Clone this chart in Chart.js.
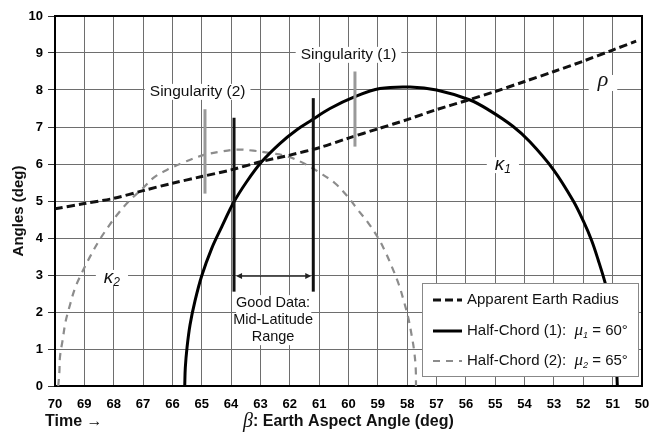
<!DOCTYPE html>
<html><head><meta charset="utf-8">
<script src="https://cdn.jsdelivr.net/npm/chart.js@4.4.0/dist/chart.umd.min.js"></script>
<style>html,body{margin:0;padding:0;background:#fff}#wrap{width:661px;height:433px}</style>
</head><body><div id="wrap"><canvas id="c" width="661" height="433"></canvas></div>
<script>
// ---- data ----
const xTickLabels = [70,69,68,67,66,65,64,63,62,61,60,59,58,57,56,55,54,53,52,51,50];
const yTickLabels = [0,1,2,3,4,5,6,7,8,9,10];

const rhoBeta = [70,69,68,67,66,65,64,63,62,61,60,59,58,57,56,55,54,53,52,51,50.2];
const rhoVals = [4.79,4.93,5.07,5.28,5.48,5.66,5.84,6.06,6.24,6.44,6.7,6.95,7.2,7.47,7.71,7.96,8.23,8.5,8.78,9.08,9.32];

const k1Beta = [65.58,65.56,65.5,65.4,65.23,65.0,64.66,64.32,63.92,63.47,62.96,62.33,61.77,61.25,60.63,59.78,58.93,57.9,57.0,55.86,55.2,54.4,53.82,53.02,52.34,52.0,51.71,51.49,51.26,51.1,50.97,50.89,50.84];
const k1Vals = [0,0.5,1.05,1.65,2.3,2.98,3.72,4.3,4.95,5.52,6.06,6.56,6.92,7.19,7.5,7.82,8.04,8.08,8.0,7.73,7.45,7.02,6.6,5.85,5.0,4.46,3.92,3.4,2.8,2.25,1.55,0.85,0];

const k2Beta = [69.89,69.85,69.83,69.74,69.64,69.49,69.32,69.09,68.81,68.52,68.18,67.84,67.5,67.0,66.59,66.08,65.57,64.95,64.38,63.81,63.24,62.62,62.05,61.48,60.97,60.46,60.06,59.7,59.33,58.98,58.73,58.5,58.28,58.11,57.96,57.85,57.76,57.71,57.7];
const k2Vals = [0,0.39,0.79,1.24,1.74,2.19,2.64,3.05,3.49,3.9,4.31,4.67,4.98,5.35,5.66,5.88,6.06,6.24,6.33,6.39,6.36,6.29,6.2,6.0,5.76,5.48,5.15,4.78,4.41,3.99,3.6,3.18,2.73,2.28,1.83,1.38,0.93,0.48,0];

const seriesNames = ["Apparent Earth Radius", "Half-Chord (1):", "Half-Chord (2):"];
const muSubs = [null, "1", "2"];
const muValues = [null, "60°", "65°"];

const goodDataLines = ["Good Data:", "Mid-Latitude", "Range"];
const singularityLabels = ["Singularity (2)", "Singularity (1)"];

// ---- build ----
const pts = (xs, ys) => xs.map((x, i) => ({x: x, y: ys[i]}));
const SANS = 'Arial, "Liberation Sans", sans-serif';
const SERIF = '"Liberation Serif", "Times New Roman", serif';

function richText(ctx, parts, x, y) {
  let cx = x;
  for (const p of parts) {
    ctx.font = p.font;
    ctx.fillText(p.t, cx, y + (p.dy || 0));
    cx += ctx.measureText(p.t).width;
  }
  return cx;
}
function partsWidth(ctx, parts) {
  let w = 0;
  for (const p of parts) { ctx.font = p.font; w += ctx.measureText(p.t).width; }
  return w;
}

const annot = {
  id: 'annot',
  beforeDraw(chart) {
    const ctx = chart.ctx;
    ctx.save(); ctx.fillStyle = '#fff'; ctx.fillRect(0, 0, chart.width, chart.height); ctx.restore();
  },
  beforeDatasetsDraw(chart) {
    const {ctx, chartArea: a, scales: {x, y}} = chart;
    ctx.save();
    ctx.strokeStyle = '#000'; ctx.lineWidth = 2;
    ctx.strokeRect(a.left, a.top, a.right - a.left, a.bottom - a.top);
    ctx.textBaseline = 'middle'; ctx.fillStyle = '#111';
    const box = (parts, bx, by, padX) => {
      const w = partsWidth(ctx, parts);
      const px = x.getPixelForValue(bx), py = y.getPixelForValue(by);
      ctx.fillStyle = '#fff';
      ctx.fillRect(px - w / 2 - padX, py - 8, w + 2 * padX, 16);
      ctx.fillStyle = '#111';
      ctx.textAlign = 'left';
      richText(ctx, parts, px - w / 2, py);
    };
    box([{t: singularityLabels[0], font: '15.5px ' + SANS}], 65.14, 7.95, 5);
    box([{t: singularityLabels[1], font: '15.5px ' + SANS}], 60.0, 8.95, 5);
    box([{t: 'ρ', font: 'italic 22px ' + SERIF, dy: -3}], 51.33, 8.19, 9);
    box([{t: 'κ', font: 'italic 19px ' + SANS}, {t: '1', font: 'italic 12px ' + SANS, dy: 5}], 54.74, 5.97, 8);
    box([{t: 'κ', font: 'italic 19px ' + SANS}, {t: '2', font: 'italic 12px ' + SANS, dy: 5}], 68.06, 2.92, 8);
    const gx = x.getPixelForValue(62.57);
    const gy = [2.24, 1.78, 1.32].map(v => y.getPixelForValue(v));
    ctx.fillStyle = '#fff';
    ctx.fillRect(x.getPixelForValue(63.9) + 2, gy[0] - 8, x.getPixelForValue(61.2) - x.getPixelForValue(63.9) - 4, gy[2] - gy[0] + 16);
    ctx.fillStyle = '#111'; ctx.font = '14.5px ' + SANS; ctx.textAlign = 'center';
    goodDataLines.forEach((t, i) => ctx.fillText(t, gx, gy[i]));
    ctx.restore();
  },
  afterDatasetsDraw(chart) {
    const {ctx, chartArea: a, scales: {x, y}} = chart;
    ctx.save();
    const vbar = (b, y0, y1, color, w) => {
      ctx.strokeStyle = color; ctx.lineWidth = w; ctx.setLineDash([]);
      ctx.beginPath();
      ctx.moveTo(x.getPixelForValue(b), y.getPixelForValue(y0));
      ctx.lineTo(x.getPixelForValue(b), y.getPixelForValue(y1));
      ctx.stroke();
    };
    vbar(64.89, 5.2, 7.48, '#999', 3);
    vbar(59.78, 6.47, 8.5, '#999', 3);
    vbar(63.9, 2.55, 7.25, '#111', 3);
    vbar(61.2, 2.55, 7.78, '#111', 3);
    const ax0 = x.getPixelForValue(63.9) + 2, ax1 = x.getPixelForValue(61.2) - 2, ay = y.getPixelForValue(2.97);
    ctx.strokeStyle = '#222'; ctx.fillStyle = '#222'; ctx.lineWidth = 1.3;
    ctx.beginPath(); ctx.moveTo(ax0 + 4, ay); ctx.lineTo(ax1 - 4, ay); ctx.stroke();
    ctx.beginPath(); ctx.moveTo(ax0, ay); ctx.lineTo(ax0 + 6, ay - 3); ctx.lineTo(ax0 + 6, ay + 3); ctx.closePath(); ctx.fill();
    ctx.beginPath(); ctx.moveTo(ax1, ay); ctx.lineTo(ax1 - 6, ay - 3); ctx.lineTo(ax1 - 6, ay + 3); ctx.closePath(); ctx.fill();

    // legend
    const lx = a.right - 220, ly = a.top + 267, lw = 216, lh = 93;
    ctx.fillStyle = '#fff'; ctx.fillRect(lx, ly, lw, lh);
    ctx.strokeStyle = '#888'; ctx.lineWidth = 1; ctx.strokeRect(lx + 0.5, ly + 0.5, lw, lh);
    const rows = [ly + 17, ly + 48, ly + 78];
    chart.data.datasets.forEach((ds, i) => {
      ctx.strokeStyle = ds.borderColor; ctx.lineWidth = ds.borderWidth;
      ctx.setLineDash(ds.borderDash || []);
      ctx.beginPath(); ctx.moveTo(lx + 11, rows[i]); ctx.lineTo(lx + 40, rows[i]); ctx.stroke();
      ctx.setLineDash([]);
      ctx.fillStyle = '#111'; ctx.textAlign = 'left'; ctx.textBaseline = 'middle';
      const parts = [{t: seriesNames[i], font: '15px ' + SANS}];
      if (muSubs[i]) {
        parts.push({t: '  ', font: '15px ' + SANS});
        parts.push({t: 'μ', font: 'italic 17px ' + SERIF});
        parts.push({t: muSubs[i], font: 'italic 9px ' + SANS, dy: 4});
        parts.push({t: ' = ' + muValues[i], font: '15px ' + SANS});
      }
      richText(ctx, parts, lx + 45, rows[i]);
    });

    // axis titles
    ctx.fillStyle = '#111'; ctx.textBaseline = 'middle';
    ctx.save();
    ctx.translate(19, 211); ctx.rotate(-Math.PI / 2);
    ctx.textAlign = 'center'; ctx.font = 'bold 15px ' + SANS;
    ctx.fillText('Angles (deg)', 0, 0);
    ctx.restore();
    ctx.textAlign = 'left';
    ctx.font = 'bold 16px ' + SANS;
    ctx.fillText('Time →', 45, 422);
    richText(ctx, [{t: 'β', font: 'italic 20px ' + SERIF}, {t: ': Earth Aspect Angle (deg)', font: 'bold 16px ' + SANS}], 243, 422);
    ctx.restore();
  }
};

new Chart(document.getElementById('c'), {
  type: 'line',
  data: {
    datasets: [
      {label: seriesNames[0], data: pts(rhoBeta, rhoVals), borderColor: '#111', borderWidth: 3, borderDash: [8, 4], pointRadius: 0, fill: false, tension: 0.3},
      {label: seriesNames[1], data: pts(k1Beta, k1Vals), borderColor: '#000', borderWidth: 3, pointRadius: 0, fill: false, tension: 0.35},
      {label: seriesNames[2], data: pts(k2Beta, k2Vals), borderColor: '#8c8c8c', borderWidth: 2.2, borderDash: [7, 6], pointRadius: 0, fill: false, tension: 0.35}
    ]
  },
  options: {
    responsive: false, animation: false, devicePixelRatio: 1,
    layout: {padding: {top: 16, right: 19, left: 0, bottom: 0}},
    plugins: {legend: {display: false}, tooltip: {enabled: false}},
    scales: {
      x: {
        type: 'linear', reverse: true, min: 50, max: 70,
        afterBuildTicks: s => { s.ticks = xTickLabels.map(v => ({value: v})); },
        ticks: {color: '#000', font: {family: SANS, weight: 'bold', size: 13}, padding: 11, maxRotation: 0, autoSkip: false},
        grid: {color: '#6e6e6e', lineWidth: 1, drawTicks: false},
        border: {display: false},
        afterFit: s => { s.height = 47; }
      },
      y: {
        min: 0, max: 10,
        afterBuildTicks: s => { s.ticks = yTickLabels.map(v => ({value: v})); },
        ticks: {color: '#000', font: {family: SANS, weight: 'bold', size: 13}, padding: 5},
        grid: {color: '#6e6e6e', lineWidth: 1, tickLength: 7, tickColor: '#333'},
        border: {display: false},
        afterFit: s => { s.width = 55; }
      }
    }
  },
  plugins: [annot]
});
</script>
</body></html>
